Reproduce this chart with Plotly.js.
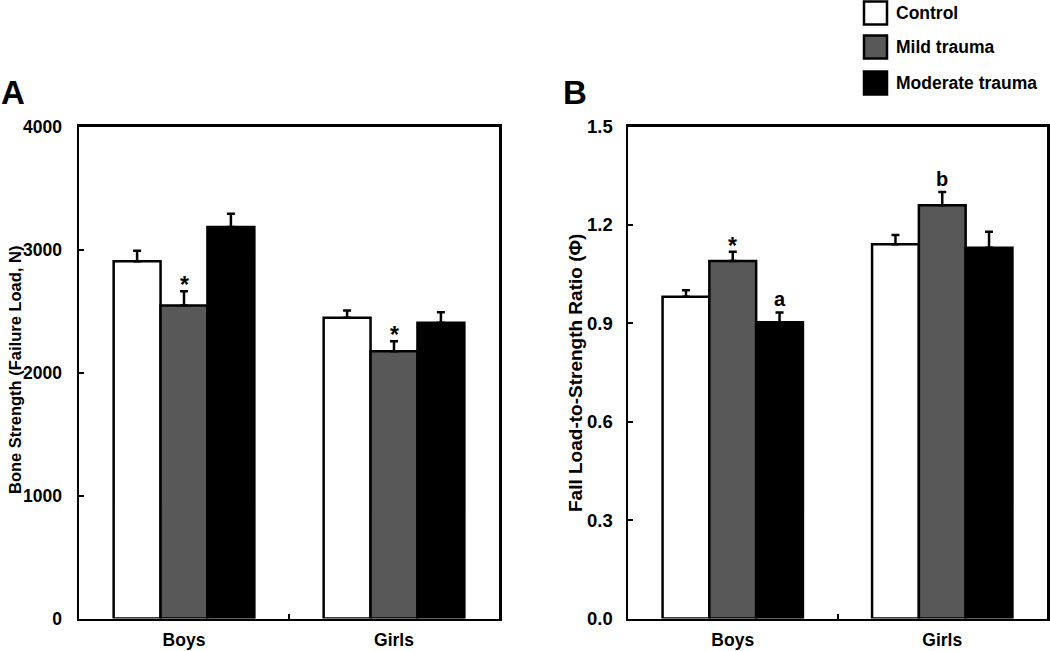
<!DOCTYPE html>
<html>
<head>
<meta charset="utf-8">
<script src="https://cdn.plot.ly/plotly-3.0.1.min.js"></script>
<style>html,body{margin:0;padding:0;background:#fff;}#chart{width:1050px;height:651px;}</style>
</head>
<body>
<div id="chart"></div>
<script>
// ---- data ----
const categories = ['Boys', 'Girls'];
const seriesNames = ['Control', 'Mild trauma', 'Moderate trauma'];

// Panel A: Bone Strength (Failure Load, N)
const strengthControl = [2905, 2445];
const strengthMild = [2545, 2172];
const strengthModerate = [3182, 2404];
const strengthControlErr = [85, 60];
const strengthMildErr = [115, 82];
const strengthModerateErr = [108, 86];
const strengthMarksControl = ['', ''];
const strengthMarksMild = ['*', '*'];
const strengthMarksModerate = ['', ''];

// Panel B: Fall Load-to-Strength Ratio (Φ)
const ratioControl = [0.981, 1.141];
const ratioMild = [1.090, 1.260];
const ratioModerate = [0.903, 1.130];
const ratioControlErr = [0.020, 0.028];
const ratioMildErr = [0.028, 0.040];
const ratioModerateErr = [0.030, 0.049];
const ratioMarksControl = ['', ''];
const ratioMarksMild = ['*', 'b'];
const ratioMarksModerate = ['a', ''];

const yTicksA = [0, 1000, 2000, 3000, 4000];
const yTickTextA = ['0', '1000', '2000', '3000', '4000'];
const yTicksB = [0, 0.3, 0.6, 0.9, 1.2, 1.5];
const yTickTextB = ['0.0', '0.3', '0.6', '0.9', '1.2', '1.5'];

// ---- styling ----
const colors = ['#ffffff', '#585858', '#000000'];
const FONT = 'Liberation Sans, Arial, Helvetica, sans-serif';
const bargap = 0.33;
const nSeries = 3;

function makeTraces(vals, errs, xa, ya) {
  return vals.map((v, i) => ({
    type: 'bar',
    name: seriesNames[i],
    x: categories,
    y: v,
    xaxis: xa, yaxis: ya,
    marker: {color: colors[i], line: {color: '#000', width: 2.5}},
    error_y: {type: 'data', symmetric: false, array: errs[i], arrayminus: errs[i].map(() => 0),
              color: '#000', thickness: 2.5, width: 4},
    showlegend: false,
    hoverinfo: 'skip'
  }));
}

const traces = [
  ...makeTraces([strengthControl, strengthMild, strengthModerate],
                [strengthControlErr, strengthMildErr, strengthModerateErr], 'x', 'y'),
  ...makeTraces([ratioControl, ratioMild, ratioModerate],
                [ratioControlErr, ratioMildErr, ratioModerateErr], 'x2', 'y2')
];

function markAnnotations(vals, errs, marks, xref, yref) {
  const out = [];
  const w = (1 - bargap) / nSeries;
  marks.forEach((row, i) => {
    row.forEach((m, c) => {
      if (!m) return;
      const isStar = m === '*';
      out.push({
        xref: xref, yref: yref,
        x: c + (i - (nSeries - 1) / 2) * w,
        y: vals[i][c] + errs[i][c],
        text: '<b>' + m + '</b>',
        showarrow: false,
        xanchor: 'center', yanchor: 'bottom',
        yshift: isStar ? -9 : 0,
        font: {family: FONT, size: isStar ? 23 : 20, color: '#000'}
      });
    });
  });
  return out;
}

const axisCommon = {
  showline: true, linecolor: '#000', linewidth: 2.5, mirror: true,
  showgrid: false, zeroline: false, fixedrange: true
};

function yAxis(size, standoff) {
  return Object.assign({}, axisCommon, {
    ticks: 'inside', ticklen: 5, tickwidth: 2, tickcolor: '#000',
    tickfont: {family: FONT, size: size, color: '#000', weight: 'bold'},
    tickmode: 'array', ticklabelstandoff: standoff
  });
}

const xAxisBase = Object.assign({}, axisCommon, {
  type: 'category', range: [-0.5, 1.5],
  ticks: 'inside', tickson: 'boundaries', ticklen: 5, tickwidth: 2, tickcolor: '#000',
  tickfont: {family: FONT, size: 17.5, color: '#000', weight: 'bold'},
  ticklabelstandoff: 4
});

const legendShapes = [];
const legendAnns = [];
const legRowY = [13, 47, 83];
seriesNames.forEach((n, i) => {
  const yTop = legRowY[i] - 11.5, yBot = legRowY[i] + 11.5;
  legendShapes.push({
    type: 'rect', xref: 'paper', yref: 'paper',
    x0: 864 / 1050, x1: 887 / 1050, y0: 1 - yBot / 651, y1: 1 - yTop / 651,
    fillcolor: colors[i], line: {color: '#000', width: 2.5}
  });
  legendAnns.push({
    xref: 'paper', yref: 'paper', x: 894 / 1050, y: 1 - legRowY[i] / 651,
    xanchor: 'left', yanchor: 'middle', showarrow: false,
    text: '<b>' + n + '</b>', font: {family: FONT, size: 17.5, color: '#000'}
  });
});

const annotations = [
  ...markAnnotations([strengthControl, strengthMild, strengthModerate],
    [strengthControlErr, strengthMildErr, strengthModerateErr],
    [strengthMarksControl, strengthMarksMild, strengthMarksModerate], 'x', 'y'),
  ...markAnnotations([ratioControl, ratioMild, ratioModerate],
    [ratioControlErr, ratioMildErr, ratioModerateErr],
    [ratioMarksControl, ratioMarksMild, ratioMarksModerate], 'x2', 'y2'),
  ...legendAnns,
  {xref: 'paper', yref: 'paper', x: -1 / 1050, y: 1 - 93 / 651, xanchor: 'left', yanchor: 'middle',
   showarrow: false, text: '<b>A</b>', font: {family: FONT, size: 33, color: '#000'}},
  {xref: 'paper', yref: 'paper', x: 561 / 1050, y: 1 - 93 / 651, xanchor: 'left', yanchor: 'middle',
   showarrow: false, text: '<b>B</b>', font: {family: FONT, size: 33, color: '#000'}},
  {xref: 'paper', yref: 'paper', x: 15 / 1050, y: 1 - 370 / 651, xanchor: 'center', yanchor: 'middle',
   showarrow: false, textangle: -90, text: '<b>Bone Strength (Failure Load, N)</b>',
   font: {family: FONT, size: 16.5, color: '#000'}},
  {xref: 'paper', yref: 'paper', x: 575 / 1050, y: 1 - 373 / 651, xanchor: 'center', yanchor: 'middle',
   showarrow: false, textangle: -90, text: '<b>Fall Load-to-Strength Ratio (\u03A6)</b>',
   font: {family: FONT, size: 19, color: '#000'}}
];

const yDom = [1 - 618.5 / 651, 1 - 126.5 / 651];

const layout = {
  width: 1050, height: 651,
  margin: {l: 0, r: 0, t: 0, b: 0, pad: 0},
  paper_bgcolor: '#fff', plot_bgcolor: '#fff',
  barmode: 'group', bargap: bargap, bargroupgap: 0,
  showlegend: false,
  font: {family: FONT, color: '#000'},
  xaxis: Object.assign({}, xAxisBase, {domain: [79 / 1050, 499 / 1050], anchor: 'y'}),
  yaxis: Object.assign(yAxis(17.5, 11), {domain: yDom, range: [0, 4000], anchor: 'x',
    tickvals: yTicksA, ticktext: yTickTextA}),
  xaxis2: Object.assign({}, xAxisBase, {domain: [628 / 1050, 1047 / 1050], anchor: 'y2'}),
  yaxis2: Object.assign(yAxis(18.5, 9), {domain: yDom, range: [0, 1.5], anchor: 'x2',
    tickvals: yTicksB, ticktext: yTickTextB}),
  shapes: legendShapes,
  annotations: annotations
};

Plotly.newPlot('chart', traces, layout, {displayModeBar: false, staticPlot: true});
</script>
</body>
</html>
